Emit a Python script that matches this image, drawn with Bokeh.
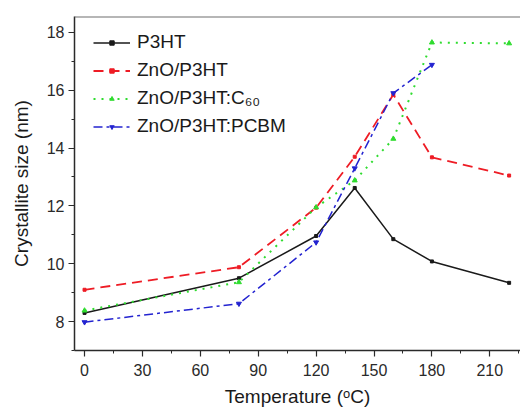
from bokeh.plotting import figure
from bokeh.models import FixedTicker, Range1d, Legend, LegendItem, Span
from bokeh.embed import file_html
from bokeh.resources import INLINE

# ---- data ----
temps = [0, 80, 120, 140, 160, 180, 220]
temps_pcbm = [0, 80, 120, 140, 160, 180]
p3ht = [8.3, 9.5, 10.96, 12.62, 10.85, 10.08, 9.34]
zno_p3ht = [9.1, 9.88, 11.94, 13.7, 15.85, 13.68, 13.05]
zno_c60 = [8.38, 9.36, 11.95, 12.88, 14.32, 17.65, 17.62]
zno_pcbm = [7.98, 8.62, 10.74, 13.3, 15.9, 16.88]
x_ticks = [0, 30, 60, 90, 120, 150, 180, 210]
x_minor = [15, 45, 75, 105, 135, 165, 195, 225]
y_ticks = [8, 10, 12, 14, 16, 18]
y_minor = [7, 9, 11, 13, 15, 17]

FONT = "Liberation Sans"

p = figure(frame_width=446, frame_height=334, output_backend="svg",
           toolbar_location=None,
           x_range=Range1d(-5.2, 225.9), y_range=Range1d(7.0, 18.55),
           min_border_left=74, min_border_right=0,
           min_border_top=16, min_border_bottom=58)
p.grid.visible = False
p.outline_line_color = None
p.background_fill_color = "white"
p.border_fill_color = "white"

top_line = Span(location=18.55, dimension="width", line_color="#6e6e6e", line_width=2)
p.add_layout(top_line)

for ax in (p.xaxis[0], p.yaxis[0]):
    ax.axis_line_color = "#2a2a2a"
    ax.axis_line_width = 1.5
    ax.major_tick_line_color = "#2a2a2a"
    ax.major_tick_line_width = 1.2
    ax.minor_tick_line_color = "#2a2a2a"
    ax.major_tick_out = 6
    ax.major_tick_in = 0
    ax.minor_tick_out = 3
    ax.minor_tick_in = 0
    ax.major_label_text_font = FONT
    ax.major_label_text_font_size = "16px"
    ax.major_label_text_color = "#2a2a2a"
    ax.axis_label_text_font = FONT
    ax.axis_label_text_font_size = "19px"
    ax.axis_label_text_font_style = "normal"
    ax.axis_label_text_color = "#1a1a1a"

p.xaxis.ticker = FixedTicker(ticks=x_ticks, minor_ticks=x_minor)
p.yaxis.ticker = FixedTicker(ticks=y_ticks, minor_ticks=y_minor)
p.xaxis.axis_label = "Temperature (ᵒC)"
p.yaxis.axis_label = "Crystallite size (nm)"
p.xaxis.major_label_standoff = 7
p.xaxis.axis_label_standoff = 7
p.yaxis.major_label_standoff = 4
p.yaxis.axis_label_standoff = 12

lw = 1.5
r1l = p.line(temps, p3ht, line_color="#1a1a1a", line_width=lw)
r1m = p.scatter(temps, p3ht, marker="square", size=3, color="#1a1a1a")

r2l = p.line(temps, zno_p3ht, line_color="#ee1c25", line_width=lw + 0.3, line_dash="10 6")
r2m = p.scatter(temps, zno_p3ht, marker="square", size=3, color="#ee1c25")

r3l = p.line(temps, zno_c60, line_color="#2fdc2f", line_width=lw + 0.5, line_dash="2 6")
r3m = p.scatter(temps, zno_c60, marker="triangle", size=5, color="#2fdc2f")

r4l = p.line(temps_pcbm, zno_pcbm, line_color="#2323d0", line_width=lw, line_dash="9 4 3 4")
r4m = p.scatter(temps_pcbm, zno_pcbm, marker="inverted_triangle", size=5, color="#2323d0")

legend = Legend(items=[
    LegendItem(label="P3HT", renderers=[r1l, r1m]),
    LegendItem(label="ZnO/P3HT", renderers=[r2l, r2m]),
    LegendItem(label="ZnO/P3HT:C₆₀", renderers=[r3l, r3m]),
    LegendItem(label="ZnO/P3HT:PCBM", renderers=[r4l, r4m]),
], location=(19, 213))
legend.margin = 0
legend.padding = 0
legend.spacing = 6
legend.glyph_width = 37
legend.glyph_height = 11
legend.label_height = 22
legend.label_standoff = 7
legend.label_text_font = FONT
legend.label_text_font_size = "19px"
legend.label_text_color = "#1a1a1a"
legend.border_line_color = None
legend.background_fill_alpha = 0
p.add_layout(legend)

open("out.html", "w").write(file_html(p, INLINE))
